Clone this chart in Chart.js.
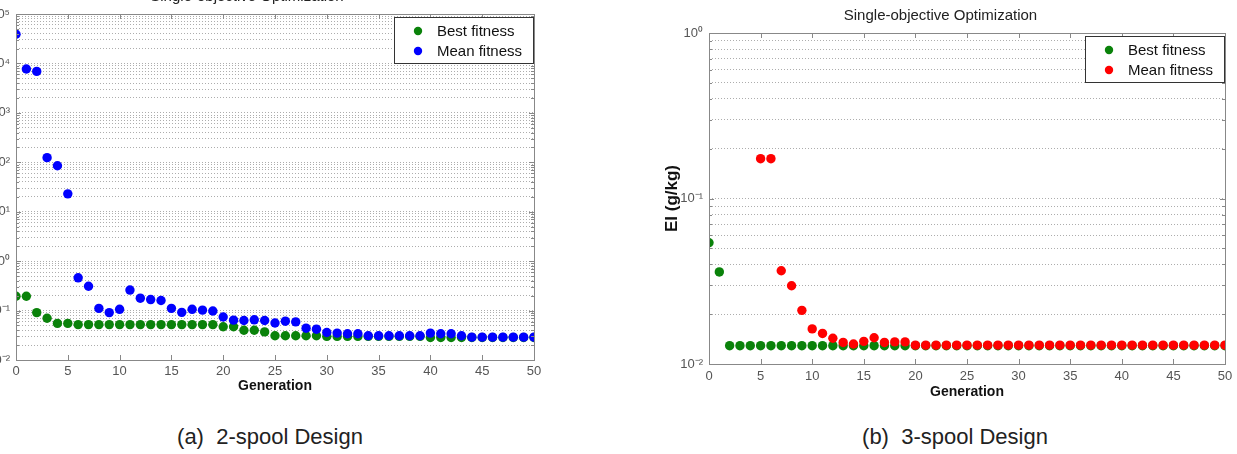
<!DOCTYPE html>
<html>
<head>
<meta charset="utf-8">
<script src="https://cdn.jsdelivr.net/npm/chart.js@4"></script>
<style>
  body { margin: 0; width: 1237px; height: 454px; background: #fff; position: relative; overflow: hidden;
         font-family: "Liberation Sans", Arial, sans-serif; }
  .wrap { position: absolute; }
  #wrapA { left: -40px; top: -19px; width: 590px; height: 425px; }
  #wrapB { left: 640px; top: 0; width: 600px; height: 412px; }
  .cap { position: absolute; top: 424px; font-size: 22px; color: #222; white-space: pre; transform: translateX(-50%); }
</style>
</head>
<body>
<div class="wrap" id="wrapA"><canvas id="chartA"></canvas></div>
<div class="wrap" id="wrapB"><canvas id="chartB"></canvas></div>
<div class="cap" style="left:270px">(a)  2-spool Design</div>
<div class="cap" style="left:955px">(b)  3-spool Design</div>
<script>
// generations on the x axis
let generations = [0, 1, 2, 3, 4, 5, 6, 7, 8, 9, 10, 11, 12, 13, 14, 15, 16, 17, 18, 19, 20,
  21, 22, 23, 24, 25, 26, 27, 28, 29, 30, 31, 32, 33, 34, 35, 36, 37, 38, 39, 40,
  41, 42, 43, 44, 45, 46, 47, 48, 49, 50];
let xTicks = [0, 5, 10, 15, 20, 25, 30, 35, 40, 45, 50];

// (a) 2-spool design
let best2 = [0.195, 0.195, 0.091, 0.070, 0.055, 0.055, 0.052, 0.052, 0.052, 0.052, 0.052,
  0.052, 0.052, 0.052, 0.052, 0.052, 0.052, 0.052, 0.052, 0.052, 0.047,
  0.047, 0.040, 0.040, 0.037, 0.031, 0.031, 0.031, 0.031, 0.031, 0.030,
  0.030, 0.030, 0.030, 0.030, 0.030, 0.030, 0.030, 0.030, 0.030, 0.0285,
  0.0285, 0.0285, 0.0285, 0.0285, 0.0285, 0.0285, 0.0285, 0.0285, 0.0285, 0.0285];
let mean2 = [39000, 7700, 6900, 124, 85, 23, 0.46, 0.31, 0.111, 0.091, 0.106,
  0.26, 0.178, 0.167, 0.16, 0.111, 0.092, 0.106, 0.102, 0.098, 0.074,
  0.064, 0.063, 0.065, 0.063, 0.056, 0.061, 0.059, 0.044, 0.042, 0.036,
  0.035, 0.034, 0.034, 0.031, 0.031, 0.031, 0.031, 0.031, 0.031, 0.035,
  0.034, 0.034, 0.031, 0.029, 0.029, 0.029, 0.029, 0.029, 0.029, 0.029];
let yTicks2 = [0.01, 0.1, 1, 10, 100, 1000, 10000, 100000];
let yLabels2 = ['10⁻²', '10⁻¹', '10⁰', '10¹', '10²', '10³', '10⁴', '10⁵'];

// (b) 3-spool design
let best3 = [0.054, 0.036, 0.0129, 0.0129, 0.0129, 0.0129, 0.0129, 0.0129, 0.0129, 0.0129, 0.0129,
  0.0129, 0.0129, 0.0129, 0.0129, 0.0129, 0.0129, 0.0129, 0.0129, 0.0129, 0.0129,
  0.0129, 0.0129, 0.0129, 0.0129, 0.0129, 0.0129, 0.0129, 0.0129, 0.0129, 0.0129,
  0.0129, 0.0129, 0.0129, 0.0129, 0.0129, 0.0129, 0.0129, 0.0129, 0.0129, 0.0129,
  0.0129, 0.0129, 0.0129, 0.0129, 0.0129, 0.0129, 0.0129, 0.0129, 0.0129, 0.0129];
let mean3 = [null, null, null, null, null, 0.174, 0.174, 0.0366, 0.0297, 0.0211, 0.0163,
  0.0153, 0.0143, 0.0135, 0.0132, 0.0137, 0.0144, 0.0135, 0.0136, 0.0136, 0.0130,
  0.0130, 0.0130, 0.0130, 0.0130, 0.0130, 0.0130, 0.0130, 0.0130, 0.0130, 0.0130,
  0.0130, 0.0130, 0.0130, 0.0130, 0.0130, 0.0130, 0.0130, 0.0130, 0.0130, 0.0130,
  0.0130, 0.0130, 0.0130, 0.0130, 0.0130, 0.0130, 0.0130, 0.0130, 0.0130, 0.0130];
let yTicks3 = [0.01, 0.1, 1];
let yLabels3 = ['10⁻²', '10⁻¹', '10⁰'];

let seriesNames = ['Best fitness', 'Mean fitness'];

const FONT = '"Liberation Sans", Arial, sans-serif';

function points(vals) {
  return generations.map((g, i) => ({ x: g, y: vals[i] }));
}

// every 1..9 x 10^k value between the decades, for the minor grid
function logGrid(decades) {
  let out = [];
  for (let i = 0; i < decades.length; i++) {
    out.push(decades[i]);
    if (i < decades.length - 1) {
      for (let m = 2; m <= 9; m++) out.push(decades[i] * m);
    }
  }
  return out;
}

// box around the axes, inward tick marks and the legend inside the plot
const framePlugin = {
  id: 'frame',
  afterDraw(chart, args, opts) {
    const { ctx, chartArea: a, scales } = chart;
    ctx.save();
    ctx.strokeStyle = '#888';
    ctx.lineWidth = 1;
    ctx.strokeRect(Math.round(a.left) + 0.5, Math.round(a.top) + 0.5, Math.round(a.width), Math.round(a.height));

    ctx.beginPath();
    xTicks.forEach(v => {
      const px = Math.round(scales.x.getPixelForValue(v)) + 0.5;
      ctx.moveTo(px, a.bottom); ctx.lineTo(px, a.bottom - 5);
      ctx.moveTo(px, a.top); ctx.lineTo(px, a.top + 5);
    });
    logGrid(opts.decades).forEach(v => {
      const py = Math.round(scales.y.getPixelForValue(v)) + 0.5;
      const len = opts.decades.includes(v) ? 5 : 3;
      ctx.moveTo(a.left, py); ctx.lineTo(a.left + len, py);
      ctx.moveTo(a.right, py); ctx.lineTo(a.right - len, py);
    });
    ctx.stroke();

    // legend
    const w = 139, h = 46;
    const x0 = Math.round(a.right - 1 - w), y0 = Math.round(a.top + 3);
    ctx.fillStyle = '#fff';
    ctx.fillRect(x0, y0, w, h);
    ctx.strokeStyle = '#333';
    ctx.strokeRect(x0 + 0.5, y0 + 0.5, w, h);
    ctx.font = '15px ' + FONT;
    ctx.textBaseline = 'middle';
    chart.data.datasets.forEach((ds, i) => {
      const cy = y0 + 14 + i * 20;
      ctx.fillStyle = ds.backgroundColor;
      ctx.beginPath();
      ctx.arc(x0 + 24, cy, 4.2, 0, Math.PI * 2);
      ctx.fill();
      ctx.fillStyle = '#111';
      ctx.fillText(ds.label, x0 + 43, cy + 1);
    });
    ctx.restore();
  }
};

function makeChart(id, bestVals, meanVals, meanColor, yMin, yMax, decades, labels, opt) {
  const grid = logGrid(decades);
  return new Chart(document.getElementById(id), {
    type: 'scatter',
    data: {
      datasets: [
        { label: seriesNames[0], data: points(bestVals), backgroundColor: '#0a820a', pointRadius: 4.7, pointBorderWidth: 0, order: 1 },
        { label: seriesNames[1], data: points(meanVals), backgroundColor: meanColor, pointRadius: 4.7, pointBorderWidth: 0, order: 0 }
      ]
    },
    options: {
      responsive: true,
      maintainAspectRatio: false,
      animation: false,
      layout: { padding: opt.padding },
      plugins: {
        legend: { display: false },
        tooltip: { enabled: false },
        title: {
          display: true,
          text: 'Single-objective Optimization',
          color: '#222',
          font: { size: 15, weight: 'normal', family: FONT },
          padding: { top: 6, bottom: 8 }
        },
        frame: { decades: decades }
      },
      scales: {
        x: {
          type: 'linear', min: 0, max: 50,
          afterBuildTicks: s => { s.ticks = xTicks.map(v => ({ value: v })); },
          ticks: { autoSkip: false, maxRotation: 0, padding: opt.xPad, color: '#555',
                   font: { size: 13, family: FONT } },
          grid: { display: false, drawTicks: false },
          border: { display: false },
          title: { display: true, text: 'Generation', color: '#111',
                   font: { size: 14, weight: 'bold', family: FONT },
                   padding: { top: 0, bottom: 11 } },
          afterFit: s => { s.height = opt.xHeight; }
        },
        y: {
          type: 'logarithmic', min: yMin, max: yMax,
          afterBuildTicks: s => { s.ticks = grid.map(v => ({ value: v })); },
          ticks: {
            autoSkip: false, padding: 6, color: '#555',
            font: { size: 13, family: FONT },
            callback: v => {
              const i = decades.findIndex(t => Math.abs(t - v) / t < 1e-9);
              return i >= 0 ? labels[i] : '';
            }
          },
          grid: { color: 'rgba(0,0,0,0.32)', lineWidth: 1, drawTicks: false },
          border: { display: false, dash: [1, 2] },
          title: { display: !!opt.yTitle, text: opt.yTitle || '', color: '#111',
                   font: { size: 17, weight: 'bold', family: FONT },
                   padding: { top: 6, bottom: 0 } },
          afterFit: s => { s.width = opt.yWidth; }
        }
      }
    },
    plugins: [framePlugin]
  });
}

makeChart('chartA', best2, mean2, '#0000ff', 0.01, 100000, yTicks2, yLabels2,
  { padding: { left: 0, top: 1, right: 16, bottom: 0 }, yWidth: 56, xHeight: 46, xPad: 4 });
makeChart('chartB', best3, mean3, '#ff0000', 0.01, 1, yTicks3, yLabels3,
  { padding: { left: 16, top: 1, right: 15, bottom: 0 }, yWidth: 53, xHeight: 48, xPad: 5, yTitle: 'EI (g/kg)' });
</script>
</body>
</html>
